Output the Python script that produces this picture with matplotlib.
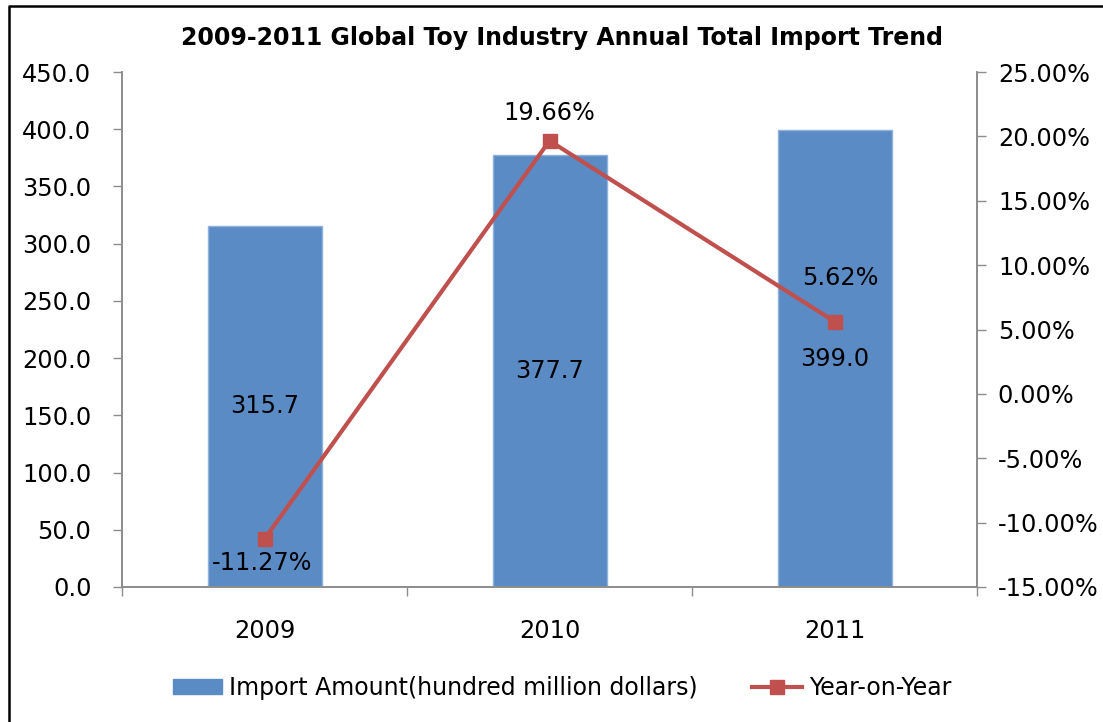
import matplotlib
matplotlib.use("Agg")
import matplotlib.pyplot as plt
from matplotlib.lines import Line2D
from matplotlib.patches import Patch
import numpy as np

plt.rcParams['font.family'] = ['DejaVu Sans']

years = ["2009", "2010", "2011"]
import_amount = [315.7, 377.7, 399.0]          # hundred million dollars
yoy_growth = [-11.27, 19.66, 5.62]              # percent

left_ticks = [0, 50, 100, 150, 200, 250, 300, 350, 400, 450]
right_ticks = [-15, -10, -5, 0, 5, 10, 15, 20, 25]

bar_color = "#5B8BC5"
bar_edge = "#8FB2DC"
line_color = "#C0504D"
axis_gray = "#8C8C8C"

W, H = 1103, 722
fig = plt.figure(figsize=(W / 100, H / 100), dpi=100)
fig.patch.set_facecolor("white")

ax = fig.add_axes([122 / W, 1 - 587 / H, (977 - 122) / W, (587 - 72) / H])
ax2 = ax.twinx()

x = np.arange(len(years))
ax.bar(x, import_amount, width=0.4, color=bar_color,
       edgecolor=bar_edge, linewidth=1.0, zorder=2)
ax.set_xlim(-0.5, len(years) - 0.5)
ax.set_ylim(0, 450)
ax.set_yticks(left_ticks)
ax.set_yticklabels([f"{v:.1f}" for v in left_ticks])
ax.set_xticks(x)
ax.set_xticklabels(years)
ax.set_xticks(np.arange(len(years) + 1) - 0.5, minor=True)

tick_fs = 17.3
tick_len = 6.5
ax.tick_params(axis="y", direction="out", length=tick_len, width=1,
               color=axis_gray, labelsize=tick_fs, pad=15.5)
ax.tick_params(axis="x", which="major", length=0, labelsize=tick_fs, pad=23)
ax.tick_params(axis="x", which="minor", direction="out", length=tick_len,
               width=1, color=axis_gray)

for a in (ax, ax2):
    a.spines["top"].set_visible(False)
    for s in ("left", "right", "bottom"):
        a.spines[s].set_color(axis_gray)
        a.spines[s].set_linewidth(1.2)

# bar value labels, centred inside each bar
for xi, v in zip(x, import_amount):
    ax.text(xi, v / 2, f"{v:.1f}", ha="center", va="center",
            fontsize=tick_fs, color="black", zorder=5)

# growth line on the right axis
ax2.plot(x, yoy_growth, color=line_color, linewidth=3.0, marker="s",
         markersize=10, markerfacecolor=line_color, markeredgecolor=line_color,
         zorder=4)
ax2.set_ylim(-15, 25)
ax2.set_yticks(right_ticks)
ax2.set_yticklabels([f"{v:.2f}%" for v in right_ticks])
ax2.tick_params(axis="y", direction="out", length=tick_len, width=1,
                color=axis_gray, labelsize=tick_fs, pad=8.5)

label_offsets = [(-2, -17), (0, 20), (4, 31)]
for xi, v, off in zip(x, yoy_growth, label_offsets):
    ax2.annotate(f"{v:.2f}%", (xi, v), xytext=off, textcoords="offset points",
                 ha="center", va="center", fontsize=tick_fs, color="black",
                 zorder=6)

fig.text(562 / W, 1 - 38 / H,
         "2009-2011 Global Toy Industry Annual Total Import Trend",
         ha="center", va="center", fontsize=17, fontweight="bold")

handles = [Patch(facecolor=bar_color, edgecolor=bar_color),
           Line2D([0], [0], color=line_color, linewidth=3.0, marker="s",
                  markersize=10)]
fig.legend(handles, ["Import Amount(hundred million dollars)", "Year-on-Year"],
           loc="center", bbox_to_anchor=(562 / W, 1 - 688 / H), ncol=2,
           frameon=False, fontsize=17, handlelength=2.1, handleheight=0.6,
           columnspacing=2.3, handletextpad=0.3)

# outer chart-area border
fig.add_artist(Line2D([9 / W, 9 / W, 1.02], [-0.02, 1 - 6 / H, 1 - 6 / H],
                      transform=fig.transFigure, color="black", linewidth=1.8))

fig.savefig("out.png", dpi=100, facecolor="white")
